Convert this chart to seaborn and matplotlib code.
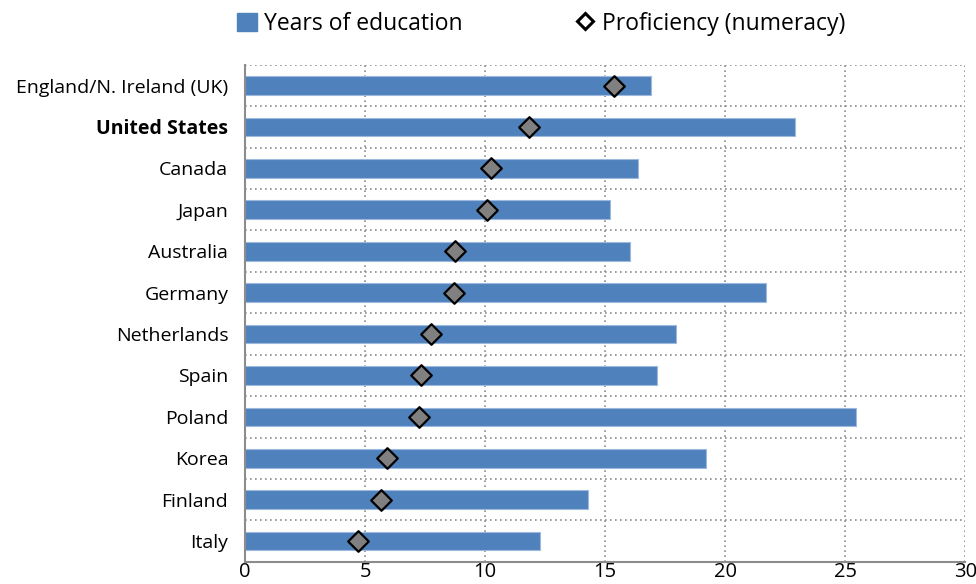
import numpy as np
import pandas as pd
import matplotlib
matplotlib.use("Agg")
import matplotlib.pyplot as plt
import seaborn as sns
from matplotlib.lines import Line2D
from matplotlib.patches import Patch

countries = ["England/N. Ireland (UK)", "United States", "Canada", "Japan", "Australia",
             "Germany", "Netherlands", "Spain", "Poland", "Korea", "Finland", "Italy"]
years_edu = [16.9, 22.9, 16.35, 15.2, 16.05, 21.7, 17.95, 17.15, 25.45, 19.2, 14.3, 12.3]
proficiency = [15.35, 11.85, 10.25, 10.1, 8.75, 8.7, 7.75, 7.35, 7.25, 5.9, 5.65, 4.7]
xticks = [0, 5, 10, 15, 20, 25, 30]

df = pd.DataFrame({"country": countries, "years": years_edu, "prof": proficiency})

sns.set_style("white")
plt.rcParams["font.family"] = ["Open Sans", "DejaVu Sans"]
plt.rcParams["text.color"] = "black"
plt.rcParams["xtick.color"] = "black"
plt.rcParams["ytick.color"] = "black"

blue = "#4F81BD"
fig = plt.figure(figsize=(9.76, 5.84), dpi=100)
ax = fig.add_axes([0.251, 0.038, 0.738, 0.851])

sns.barplot(data=df, x="years", y="country", color=blue, width=0.45,
            saturation=1, ax=ax, edgecolor="#9DB9DE", linewidth=0.8, zorder=2)
sns.scatterplot(data=df, x="prof", y="country", marker="D", s=110, color="#808080",
                edgecolor="black", linewidth=1.6, ax=ax, zorder=4)

ax.set_xlim(0, 30)
ax.set_ylim(len(countries) - 0.5, -0.5)
ax.set_xticks(xticks)
ax.set_xticklabels([str(t) for t in xticks], fontsize=14.5)
ax.set_yticks(np.arange(-0.5, len(countries), 1.0), minor=True)
ax.tick_params(axis="y", which="both", length=0, labelsize=14, pad=12)
ax.tick_params(axis="x", length=0, pad=0)
ax.set_xlabel("")
ax.set_ylabel("")

ax.grid(axis="x", which="major", linestyle=(0, (1, 2)), color="#8c8c8c", linewidth=1.2, zorder=0)
ax.grid(axis="y", which="minor", linestyle=(0, (1, 2)), color="#8c8c8c", linewidth=1.2, zorder=0)
ax.set_axisbelow(True)

for lab in ax.get_yticklabels():
    if lab.get_text() == "United States":
        lab.set_fontweight("bold")

for side in ["top", "right"]:
    ax.spines[side].set_visible(False)
for side in ["left", "bottom"]:
    ax.spines[side].set_color("#8c8c8c")
    ax.spines[side].set_linewidth(1.5)

handles = [Patch(facecolor=blue, edgecolor=blue, label="Years of education"),
           Line2D([], [], marker="D", linestyle="", markersize=8, markerfacecolor="white",
                  markeredgecolor="black", markeredgewidth=2.2, label="Proficiency (numeracy)")]
fig.legend(handles=handles, loc="upper left", bbox_to_anchor=(0.222, 1.015), ncol=2,
           frameon=False, fontsize=16.5, handlelength=0.85, handleheight=0.85,
           handletextpad=0.3, columnspacing=4.95)

fig.savefig("out.png", dpi=100)
